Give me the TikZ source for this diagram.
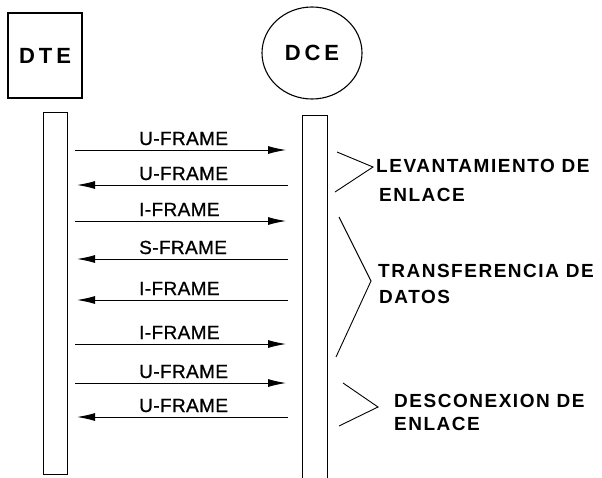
\documentclass[tikz,border=0pt]{standalone}
\usepackage{fontspec}
\setmainfont{Liberation Sans}
\usetikzlibrary{arrows.meta,shapes.geometric}
\begin{document}
\begin{tikzpicture}[x=1pt,y=-1pt,
  box/.style={draw,line width=1.1pt,inner sep=0pt},
  title/.style={font=\bfseries\fontsize{22}{22}\selectfont\addfontfeatures{LetterSpace=18}},
  msg/.style={line width=0.9pt,-{Latex[length=18pt,width=8pt]}},
  framelabel/.style={font=\fontsize{19}{19}\selectfont\addfontfeatures{LetterSpace=2,FakeBold=0.8},anchor=base west,inner sep=0pt},
  phase/.style={font=\bfseries\fontsize{19}{19}\selectfont\addfontfeatures{LetterSpace=8},anchor=base west,inner sep=0pt},
  brace/.style={line width=0.9pt}
]
\useasboundingbox (0,0) rectangle (602,477);

% stations
\node[box,title,minimum width=74pt,minimum height=85pt] (dte) at (45,55.5) {DTE};
\node[box,title,ellipse,minimum width=100pt,minimum height=92pt] (dce) at (312,53) {DCE};

% lifelines (the DCE one runs off the bottom edge)
\node[box,anchor=north west,minimum width=24pt,minimum height=362pt] (dtel) at (43,112) {};
\node[box,anchor=north west,minimum width=25pt,minimum height=380pt] (dcel) at (302,115) {};

% message rows
\foreach \i/\y in {1/150,2/185,3/221,4/259,5/300,6/344,7/383,8/417}
  \coordinate (r\i) at (139,\y);

% DTE -> DCE
\foreach \i in {1,3,6,7}
  \draw[msg,shorten <=7pt,shorten >=16pt] (dtel.east |- r\i) -- (dcel.west |- r\i);
% DCE -> DTE
\foreach \i in {2,4,5,8}
  \draw[msg,shorten <=14pt,shorten >=9pt] (dcel.west |- r\i) -- (dtel.east |- r\i);

\node[framelabel] (l1) at ([yshift=5pt]r1) {U-FRAME};
\node[framelabel] (l2) at ([yshift=5pt]r2) {U-FRAME};
\node[framelabel] (l3) at ([yshift=5pt]r3) {I-FRAME};
\node[framelabel] (l4) at ([yshift=5pt]r4) {S-FRAME};
\node[framelabel] (l5) at ([yshift=5pt]r5) {I-FRAME};
\node[framelabel] (l6) at ([yshift=5pt]r6) {I-FRAME};
\node[framelabel] (l7) at ([yshift=5pt]r7) {U-FRAME};
\node[framelabel] (l8) at ([yshift=5pt]r8) {U-FRAME};

% phase brackets
\draw[brace] (337,152) -- (373,167) -- (335,192);
\draw[brace] (339,217) -- (371,281) -- (336,357);
\draw[brace] (343,383) -- (378,407) -- (339,426);

% phase names
\node[phase] (lev1) at (376,172) {LEVANTAMIENTO DE};
\node[phase] (lev2) at (379,201) {ENLACE};
\node[phase] (tra1) at (378,277) {TRANSFERENCIA DE};
\node[phase] (tra2) at (379,303) {DATOS};
\node[phase] (des1) at (394,407) {DESCONEXION DE};
\node[phase] (des2) at (394,430) {ENLACE};
\end{tikzpicture}
\end{document}
